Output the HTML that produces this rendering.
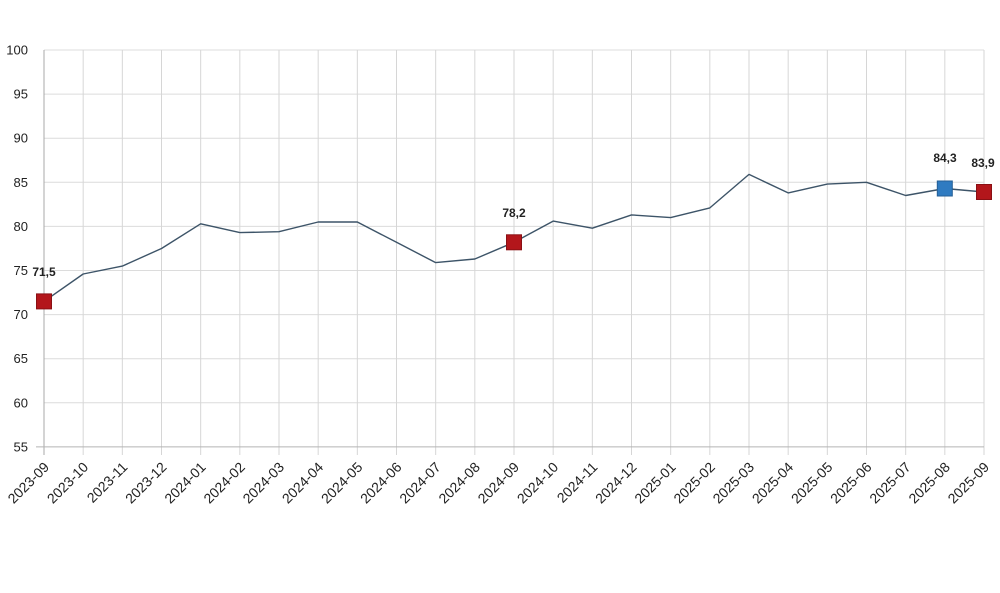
<!DOCTYPE html>
<html><head><meta charset="utf-8"><style>
html,body{margin:0;padding:0;background:#fff;}
svg{display:block;}
text{font-family:"Liberation Sans",Arial,sans-serif;}
</style></head><body>
<svg width="1000" height="593" viewBox="0 0 1000 593" xmlns="http://www.w3.org/2000/svg">
<rect width="1000" height="593" fill="#fff"/>
<g stroke="#dcdcdc" stroke-width="1">
<line x1="44" y1="50" x2="984" y2="50"/>
<line x1="44" y1="94.1" x2="984" y2="94.1"/>
<line x1="44" y1="138.2" x2="984" y2="138.2"/>
<line x1="44" y1="182.3" x2="984" y2="182.3"/>
<line x1="44" y1="226.4" x2="984" y2="226.4"/>
<line x1="44" y1="270.5" x2="984" y2="270.5"/>
<line x1="44" y1="314.6" x2="984" y2="314.6"/>
<line x1="44" y1="358.7" x2="984" y2="358.7"/>
<line x1="44" y1="402.8" x2="984" y2="402.8"/>
</g>
<g stroke="#d6d6d6" stroke-width="1">
<line x1="83.17" y1="50" x2="83.17" y2="455"/>
<line x1="122.33" y1="50" x2="122.33" y2="455"/>
<line x1="161.5" y1="50" x2="161.5" y2="455"/>
<line x1="200.67" y1="50" x2="200.67" y2="455"/>
<line x1="239.83" y1="50" x2="239.83" y2="455"/>
<line x1="279" y1="50" x2="279" y2="455"/>
<line x1="318.17" y1="50" x2="318.17" y2="455"/>
<line x1="357.33" y1="50" x2="357.33" y2="455"/>
<line x1="396.5" y1="50" x2="396.5" y2="455"/>
<line x1="435.67" y1="50" x2="435.67" y2="455"/>
<line x1="474.83" y1="50" x2="474.83" y2="455"/>
<line x1="514" y1="50" x2="514" y2="455"/>
<line x1="553.17" y1="50" x2="553.17" y2="455"/>
<line x1="592.33" y1="50" x2="592.33" y2="455"/>
<line x1="631.5" y1="50" x2="631.5" y2="455"/>
<line x1="670.67" y1="50" x2="670.67" y2="455"/>
<line x1="709.83" y1="50" x2="709.83" y2="455"/>
<line x1="749" y1="50" x2="749" y2="455"/>
<line x1="788.17" y1="50" x2="788.17" y2="455"/>
<line x1="827.33" y1="50" x2="827.33" y2="455"/>
<line x1="866.5" y1="50" x2="866.5" y2="455"/>
<line x1="905.67" y1="50" x2="905.67" y2="455"/>
<line x1="944.83" y1="50" x2="944.83" y2="455"/>
<line x1="984" y1="50" x2="984" y2="455"/>
</g>
<line x1="44" y1="50" x2="44" y2="455" stroke="#a8a8a8" stroke-width="1"/>
<line x1="36" y1="446.9" x2="984" y2="446.9" stroke="#b4b4b4" stroke-width="1"/>
<g font-size="13" fill="#222" text-anchor="end">
<text x="28" y="54.5">100</text>
<text x="28" y="98.6">95</text>
<text x="28" y="142.7">90</text>
<text x="28" y="186.8">85</text>
<text x="28" y="230.9">80</text>
<text x="28" y="275">75</text>
<text x="28" y="319.1">70</text>
<text x="28" y="363.2">65</text>
<text x="28" y="407.3">60</text>
<text x="28" y="451.4">55</text>
</g>
<polyline fill="none" stroke="#3d5468" stroke-width="1.4" stroke-linejoin="round" points="44,301.4 83.17,274 122.33,266.1 161.5,248.5 200.67,223.8 239.83,232.6 279,231.7 318.17,222 357.33,222 396.5,242.3 435.67,262.6 474.83,259 514,242.3 553.17,221.1 592.33,228.2 631.5,214.9 670.67,217.6 709.83,207.9 749,174.4 788.17,192.9 827.33,184.1 866.5,182.3 905.67,195.5 944.83,188.5 984,192"/>
<rect x="36.5" y="293.9" width="15" height="15" fill="#b3161b" stroke="#8a1014" stroke-width="1"/>
<rect x="506.5" y="234.8" width="15" height="15" fill="#b3161b" stroke="#8a1014" stroke-width="1"/>
<rect x="937.3" y="181" width="15" height="15" fill="#2f7bc1" stroke="#245f96" stroke-width="1"/>
<rect x="976.5" y="184.5" width="15" height="15" fill="#b3161b" stroke="#8a1014" stroke-width="1"/>
<g font-size="12" font-weight="bold" fill="#222" text-anchor="middle">
<text x="44" y="276">71,5</text>
<text x="514" y="217">78,2</text>
<text x="945" y="162">84,3</text>
<text x="983" y="167">83,9</text>
</g>
<g font-size="14" fill="#222" text-anchor="end">
<text transform="translate(50,468) rotate(-45)">2023-09</text>
<text transform="translate(89.17,468) rotate(-45)">2023-10</text>
<text transform="translate(128.33,468) rotate(-45)">2023-11</text>
<text transform="translate(167.5,468) rotate(-45)">2023-12</text>
<text transform="translate(206.67,468) rotate(-45)">2024-01</text>
<text transform="translate(245.83,468) rotate(-45)">2024-02</text>
<text transform="translate(285,468) rotate(-45)">2024-03</text>
<text transform="translate(324.17,468) rotate(-45)">2024-04</text>
<text transform="translate(363.33,468) rotate(-45)">2024-05</text>
<text transform="translate(402.5,468) rotate(-45)">2024-06</text>
<text transform="translate(441.67,468) rotate(-45)">2024-07</text>
<text transform="translate(480.83,468) rotate(-45)">2024-08</text>
<text transform="translate(520,468) rotate(-45)">2024-09</text>
<text transform="translate(559.17,468) rotate(-45)">2024-10</text>
<text transform="translate(598.33,468) rotate(-45)">2024-11</text>
<text transform="translate(637.5,468) rotate(-45)">2024-12</text>
<text transform="translate(676.67,468) rotate(-45)">2025-01</text>
<text transform="translate(715.83,468) rotate(-45)">2025-02</text>
<text transform="translate(755,468) rotate(-45)">2025-03</text>
<text transform="translate(794.17,468) rotate(-45)">2025-04</text>
<text transform="translate(833.33,468) rotate(-45)">2025-05</text>
<text transform="translate(872.5,468) rotate(-45)">2025-06</text>
<text transform="translate(911.67,468) rotate(-45)">2025-07</text>
<text transform="translate(950.83,468) rotate(-45)">2025-08</text>
<text transform="translate(990,468) rotate(-45)">2025-09</text>
</g>
</svg>
</body></html>
